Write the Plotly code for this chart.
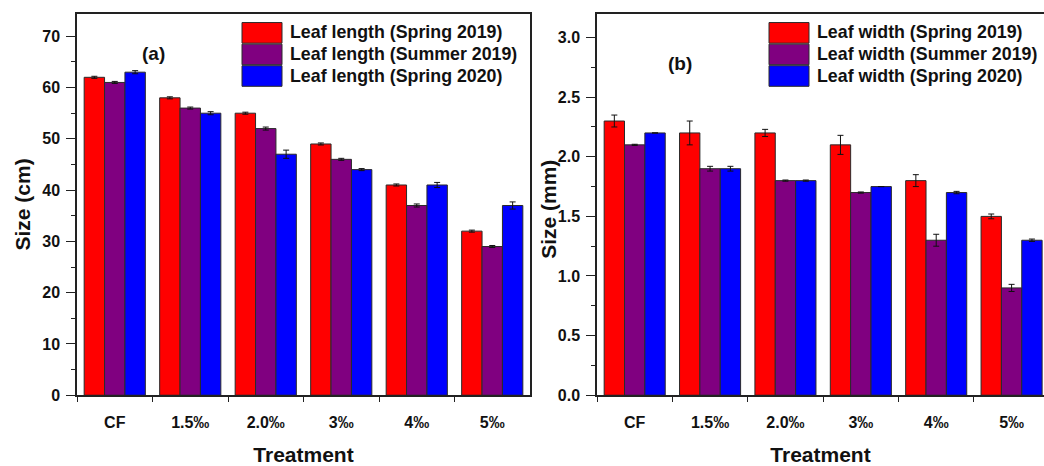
import plotly.graph_objects as go

# Treatments on the x axis
treatments = ["CF", "1.5‰", "2.0‰", "3‰", "4‰", "5‰"]

# (a) leaf length, cm
length_names = ["Leaf length (Spring 2019)", "Leaf length (Summer 2019)", "Leaf length (Spring 2020)"]
length_spring19 = [62, 58, 55, 49, 41, 32]
length_summer19 = [61, 56, 52, 46, 37, 29]
length_spring20 = [63, 55, 47, 44, 41, 37]
length_err_spring19 = [0.2, 0.2, 0.2, 0.2, 0.2, 0.2]
length_err_summer19 = [0.2, 0.2, 0.3, 0.2, 0.3, 0.2]
length_err_spring20 = [0.3, 0.3, 0.8, 0.2, 0.5, 0.7]

# (b) leaf width, mm
width_names = ["Leaf width (Spring 2019)", "Leaf width (Summer 2019)", "Leaf width (Spring 2020)"]
width_spring19 = [2.3, 2.2, 2.2, 2.1, 1.8, 1.5]
width_summer19 = [2.1, 1.9, 1.8, 1.7, 1.3, 0.9]
width_spring20 = [2.2, 1.9, 1.8, 1.75, 1.7, 1.3]
width_err_spring19 = [0.05, 0.1, 0.03, 0.08, 0.05, 0.02]
width_err_summer19 = [0.005, 0.02, 0.005, 0.005, 0.05, 0.03]
width_err_spring20 = [0.0, 0.02, 0.005, 0.0, 0.01, 0.01]

colors = ["#FF0000", "#800080", "#0000FF"]
FONT = "Liberation Sans, Arial, sans-serif"
INK = "#111111"
W, H = 1044, 466

fig = go.Figure()

panels = [
    (length_names, [length_spring19, length_summer19, length_spring20],
     [length_err_spring19, length_err_summer19, length_err_spring20], "x", "y"),
    (width_names, [width_spring19, width_summer19, width_spring20],
     [width_err_spring19, width_err_summer19, width_err_spring20], "x2", "y2"),
]

for names, series, errs, xa, ya in panels:
    for name, vals, err, col in zip(names, series, errs, colors):
        fig.add_trace(go.Bar(
            x=treatments, y=vals, name=name,
            marker=dict(color=col, line=dict(color="#2a2a2a", width=1)),
            error_y=dict(type="data", array=err, visible=True,
                         color=INK, thickness=1, width=3),
            xaxis=xa, yaxis=ya, showlegend=False,
        ))

# pixel -> paper helpers for legend and label placement
def py(p):
    return 1 - p / H

def px(p):
    return p / W

shapes = []
annotations = []

# Legend blocks: large swatches with labels
for names, x0 in [(length_names, 242), (width_names, 769)]:
    row_tops = [23, 45, 67]
    for name, col, top in zip(names, colors, row_tops):
        shapes.append(dict(type="rect", xref="paper", yref="paper",
                           x0=px(x0), x1=px(x0 + 40), y0=py(top + 21), y1=py(top),
                           fillcolor=col, line=dict(color="#2a2a2a", width=1)))
        annotations.append(dict(text=f"<b>{name}</b>", xref="paper", yref="paper",
                                x=px(x0 + 46), y=py(top + 10), xanchor="left", yanchor="middle",
                                showarrow=False, font=dict(family=FONT, size=17.8, color=INK)))

# Panel tags
annotations.append(dict(text="<b>(a)</b>", xref="paper", yref="paper", x=px(140), y=py(42),
                        showarrow=False, font=dict(family=FONT, size=19, color=INK)))
annotations.append(dict(text="<b>(b)</b>", xref="paper", yref="paper", x=px(680), y=py(52),
                        showarrow=False, font=dict(family=FONT, size=19, color=INK)))

# y title of panel (b) sits close to its tick labels
annotations.append(dict(text="<b>Size (mm)</b>", xref="paper", yref="paper", x=px(549), y=py(214),
                        textangle=-90, showarrow=False, font=dict(family=FONT, size=21, color=INK)))

ydom = [py(403), py(14)]
axis_common = dict(showgrid=False, zeroline=False, showline=True, linecolor="#222", linewidth=1.5,
                   ticks="outside", tickwidth=1.2, tickcolor="#222",
                   tickfont=dict(family=FONT, size=16, color=INK))
title_font = dict(family=FONT, size=21, color=INK)

fig.update_layout(
    width=W, height=H,
    margin=dict(l=0, r=0, t=0, b=0),
    paper_bgcolor="white", plot_bgcolor="white",
    barmode="group", bargap=0.19, bargroupgap=0,
    shapes=shapes, annotations=annotations,
    xaxis=dict(domain=[px(77), px(530)], range=[-0.5, 5.5], anchor="y",
               tickson="boundaries", mirror=True, ticklen=5, ticklabelstandoff=12,
               tickprefix="<b>", ticksuffix="</b>",
               title=dict(text="<b>Treatment</b>", font=title_font, standoff=20),
               **axis_common),
    yaxis=dict(domain=ydom, range=[0, 74.4], anchor="x", dtick=10, mirror=True,
               ticklen=9, ticklabelstandoff=3,
               minor=dict(ticks="outside", ticklen=4, dtick=5, tickcolor="#222"),
               tickprefix="<b>", ticksuffix="</b>",
               title=dict(text="<b>Size (cm)</b>", font=title_font, standoff=6),
               **axis_common),
    xaxis2=dict(domain=[px(597), 1.0], range=[-0.5, 5.43], anchor="y2",
                tickson="boundaries", mirror=True, ticklen=5, ticklabelstandoff=12,
                tickprefix="<b>", ticksuffix="</b>",
                title=dict(text="<b>Treatment</b>", font=title_font, standoff=20),
                **axis_common),
    yaxis2=dict(domain=ydom, range=[0, 3.2], anchor="x2", dtick=0.5, tickformat=".1f",
                ticklen=9, ticklabelstandoff=3,
                minor=dict(ticks="outside", ticklen=4, dtick=0.25, tickcolor="#222"),
                tickprefix="<b>", ticksuffix="</b>",
                **axis_common),
)

fig.write_html("out.html")
